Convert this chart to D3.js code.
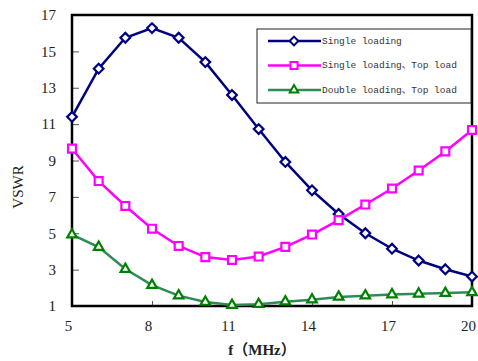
<!DOCTYPE html>
<html>
<head>
<meta charset="utf-8">
<script src="https://cdn.jsdelivr.net/npm/d3@7"></script>
<style>
  body { margin: 0; background: #fff; }
  .tick text { font-family: "Liberation Serif", "DejaVu Serif", serif; font-size: 15px; fill: #222; }
</style>
</head>
<body>
<div id="chart"></div>
<script>
// --------------------------------------
//  Data
// --------------------------------------

const freqs = [5, 6, 7, 8, 9, 10, 11, 12, 13, 14, 15, 16, 17, 18, 19, 20];
const singleLoading = [11.4, 14.05, 15.75, 16.28, 15.75, 14.41, 12.6, 10.73, 8.92, 7.36, 6.06, 5.0, 4.15, 3.5, 3.02, 2.62];
const singleTopLoad = [9.65, 7.87, 6.5, 5.25, 4.3, 3.69, 3.53, 3.72, 4.25, 4.93, 5.72, 6.58, 7.46, 8.45, 9.5, 10.68];
const doubleTopLoad = [4.92, 4.24, 3.03, 2.15, 1.57, 1.22, 1.05, 1.1, 1.24, 1.35, 1.5, 1.57, 1.63, 1.67, 1.71, 1.75];
const xTicks = [5, 8, 11, 14, 17, 20];
const yTicks = [1, 3, 5, 7, 9, 11, 13, 15, 17];
const seriesNames = ["Single loading", "Single loading、Top load", "Double loading、Top load"];

// --------------------------------------
//  Margin and canvas
// --------------------------------------

const width = 478;
const height = 361;
const margin = {top: 15, right: 6, bottom: 55, left: 72};
const innerwidth = width - margin.left - margin.right;
const innerheight = height - margin.top - margin.bottom;

const svg = d3.select("#chart")
  .append("svg")
    .attr("width", width)
    .attr("height", height);

const innerChart = svg.append("g")
    .attr("transform", `translate(${margin.left}, ${margin.top})`);

// --------------------------------------
//  Scales
// --------------------------------------

const x = d3.scaleLinear().domain([5, 20]).range([0, innerwidth]);
const y = d3.scaleLinear().domain([1, 17]).range([innerheight, 0]);

// --------------------------------------
//  Axes
// --------------------------------------

const xAxis = innerChart.append("g")
    .attr("transform", `translate(0, ${innerheight})`)
    .call(d3.axisBottom(x).tickValues(xTicks).tickSizeInner(-5).tickSizeOuter(0).tickPadding(14));
xAxis.select(".domain").remove();
xAxis.selectAll(".tick line").attr("stroke", "#555");
xAxis.selectAll(".tick text").attr("dx", -4);

const yAxis = innerChart.append("g")
    .call(d3.axisLeft(y).tickValues(yTicks).tickSizeInner(-7).tickSizeOuter(0).tickPadding(16));
yAxis.select(".domain").remove();
yAxis.selectAll(".tick line").attr("stroke", "#555");

// frame
innerChart.append("rect")
    .attr("x", 0).attr("y", 0)
    .attr("width", innerwidth).attr("height", innerheight)
    .attr("fill", "none")
    .attr("stroke", "#000")
    .attr("stroke-width", 2.5);

svg.append("text")
    .attr("transform", `translate(20, 187) rotate(-90)`)
    .attr("text-anchor", "middle")
    .attr("dominant-baseline", "middle")
    .attr("font-family", "Liberation Serif, serif")
    .attr("font-size", 15)
    .attr("fill", "#222")
    .text("VSWR");

svg.append("text")
    .attr("x", 262).attr("y", 355)
    .attr("text-anchor", "middle")
    .attr("font-family", "Liberation Serif, Noto Sans CJK SC, serif")
    .attr("font-size", 15)
    .attr("font-weight", "bold")
    .attr("fill", "#222")
    .text("f（MHz）");

// --------------------------------------
//  Data drawing
// --------------------------------------

const series = [
  {name: seriesNames[0], values: singleLoading, line: "#000080", mark: "#000080", symbol: d3.symbolDiamond2, size: 60},
  {name: seriesNames[1], values: singleTopLoad, line: "#ff00ff", mark: "#ff00ff", symbol: d3.symbolSquare2, size: 80},
  {name: seriesNames[2], values: doubleTopLoad, line: "#2e8b57", mark: "#008000", symbol: d3.symbolTriangle2, size: 65}
];

const line = d3.line()
    .x((d, i) => x(freqs[i]))
    .y(d => y(d));

series.forEach(s => {
  innerChart.append("path")
      .datum(s.values)
      .attr("fill", "none")
      .attr("stroke", s.line)
      .attr("stroke-width", 2.5)
      .attr("d", line);

  innerChart.selectAll(null)
      .data(s.values)
      .join("path")
      .attr("transform", (d, i) => `translate(${x(freqs[i])}, ${y(d)})`)
      .attr("d", d3.symbol(s.symbol, s.size))
      .attr("fill", "#fff")
      .attr("stroke", s.mark)
      .attr("stroke-width", 2.2);
});

// --------------------------------------
//  Legend
// --------------------------------------

const legend = svg.append("g");
legend.append("rect")
    .attr("x", 257).attr("y", 29)
    .attr("width", 214).attr("height", 74)
    .attr("fill", "#fff")
    .attr("stroke", "#222")
    .attr("stroke-width", 1);

series.forEach((s, i) => {
  const ly = 41 + i * 24.5;
  legend.append("line")
      .attr("x1", 268).attr("x2", 321)
      .attr("y1", ly).attr("y2", ly)
      .attr("stroke", s.line)
      .attr("stroke-width", 2.5);
  legend.append("path")
      .attr("transform", `translate(294, ${ly})`)
      .attr("d", d3.symbol(s.symbol, s.size * 0.8))
      .attr("fill", "#fff")
      .attr("stroke", s.mark)
      .attr("stroke-width", 2);
  legend.append("text")
      .attr("x", 322).attr("y", ly)
      .attr("dominant-baseline", "middle")
      .attr("font-family", "Liberation Mono, Noto Sans CJK SC, monospace")
      .attr("font-size", 9.5)
      .attr("fill", "#333")
      .text(s.name);
});
</script>
</body>
</html>
